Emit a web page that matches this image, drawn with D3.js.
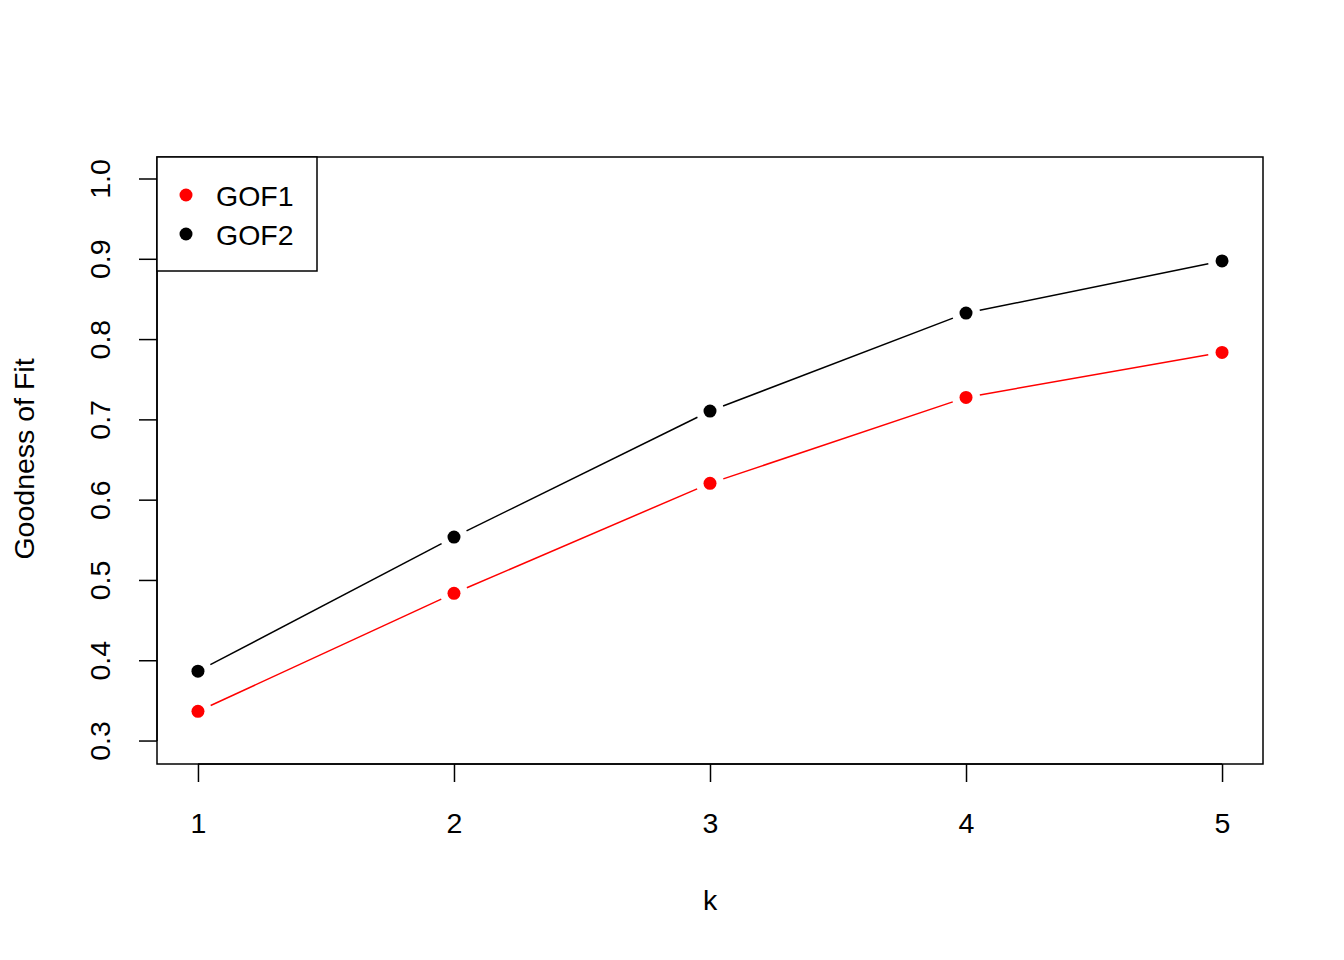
<!DOCTYPE html>
<html><head><meta charset="utf-8">
<script src="https://d3js.org/d3.v7.min.js"></script>
<style>body{margin:0;background:#fff}text{font-family:"Liberation Sans",Arial,sans-serif}</style>
</head><body><svg id="c" width="1344" height="960"></svg>
<script>
const kValues=[1,2,3,4,5];
const gof1=[0.337,0.484,0.621,0.728,0.784];
const gof2=[0.387,0.554,0.711,0.833,0.898];
const yTicks=[0.3,0.4,0.5,0.6,0.7,0.8,0.9,1.0];
const seriesNames=["GOF1","GOF2"];
const seriesColors=["#ff0000","#000000"];

const svg=d3.select("#c");
const L=157,R=1263,T=157,B=764;
const FS=28.5;
const x=d3.scaleLinear().domain([0.84,5.16]).range([L,R]);
const y=d3.scaleLinear().domain([0.2714,1.0274]).range([B,T]);

svg.append("rect").attr("x",L).attr("y",T).attr("width",R-L).attr("height",B-T).attr("fill","none").attr("stroke","#000").attr("stroke-width",1.5);

const xa=svg.append("g").attr("transform",`translate(0,${B})`).call(d3.axisBottom(x).tickValues(kValues).tickFormat(d3.format("d")).tickSize(18).tickSizeOuter(0));
xa.select(".domain").attr("d",`M${x(1)},0H${x(5)}`).attr("stroke-width",1.5);
xa.selectAll("line").attr("stroke-width",1.5);
xa.selectAll("text").attr("font-size",FS).attr("dy",0).attr("y",69).attr("fill","#000");

const ya=svg.append("g").attr("transform",`translate(${L},0)`).call(d3.axisLeft(y).tickValues(yTicks).tickFormat(d3.format(".1f")).tickSize(18).tickSizeOuter(0));
ya.select(".domain").attr("d",`M0,${y(0.3)}V${y(1.0)}`).attr("stroke-width",1.5);
ya.selectAll("line").attr("stroke-width",1.5);
ya.selectAll("text").attr("font-size",FS).attr("x",0).attr("dy",0).attr("fill","#000")
  .attr("text-anchor","middle")
  .attr("transform",function(d){return `translate(-57,${y(d)}) rotate(-90)`;}).attr("y",10);
ya.selectAll(".tick").attr("transform",null);
ya.selectAll(".tick line").attr("transform",function(d){return `translate(0,${y(d)})`;});

svg.append("text").attr("x",710).attr("y",910).attr("text-anchor","middle").attr("font-size",FS).text("k");
svg.append("text").attr("transform","translate(34,459) rotate(-90)").attr("text-anchor","middle").attr("font-size",FS).text("Goodness of Fit");

const gap=14;
[gof1,gof2].forEach((vals,si)=>{
  const pts=vals.map((v,i)=>[x(kValues[i]),y(v)]);
  for(let i=0;i<pts.length-1;i++){
    const [x1,y1]=pts[i],[x2,y2]=pts[i+1];
    const dx=x2-x1,dy=y2-y1,len=Math.hypot(dx,dy),ux=dx/len,uy=dy/len;
    svg.append("line").attr("x1",x1+ux*gap).attr("y1",y1+uy*gap).attr("x2",x2-ux*gap).attr("y2",y2-uy*gap)
      .attr("stroke",seriesColors[si]).attr("stroke-width",1.5);
  }
  svg.selectAll(null).data(pts).enter().append("circle").attr("cx",d=>d[0]).attr("cy",d=>d[1]).attr("r",6.5).attr("fill",seriesColors[si]);
});

svg.append("rect").attr("x",L).attr("y",T).attr("width",160).attr("height",114).attr("fill","#fff").attr("stroke","#000").attr("stroke-width",1.5);
seriesNames.forEach((n,i)=>{
  svg.append("circle").attr("cx",186).attr("cy",195+i*39).attr("r",6.5).attr("fill",seriesColors[i]);
  svg.append("text").attr("x",216).attr("y",206+i*39).attr("font-size",FS).text(n);
});
</script></body></html>
